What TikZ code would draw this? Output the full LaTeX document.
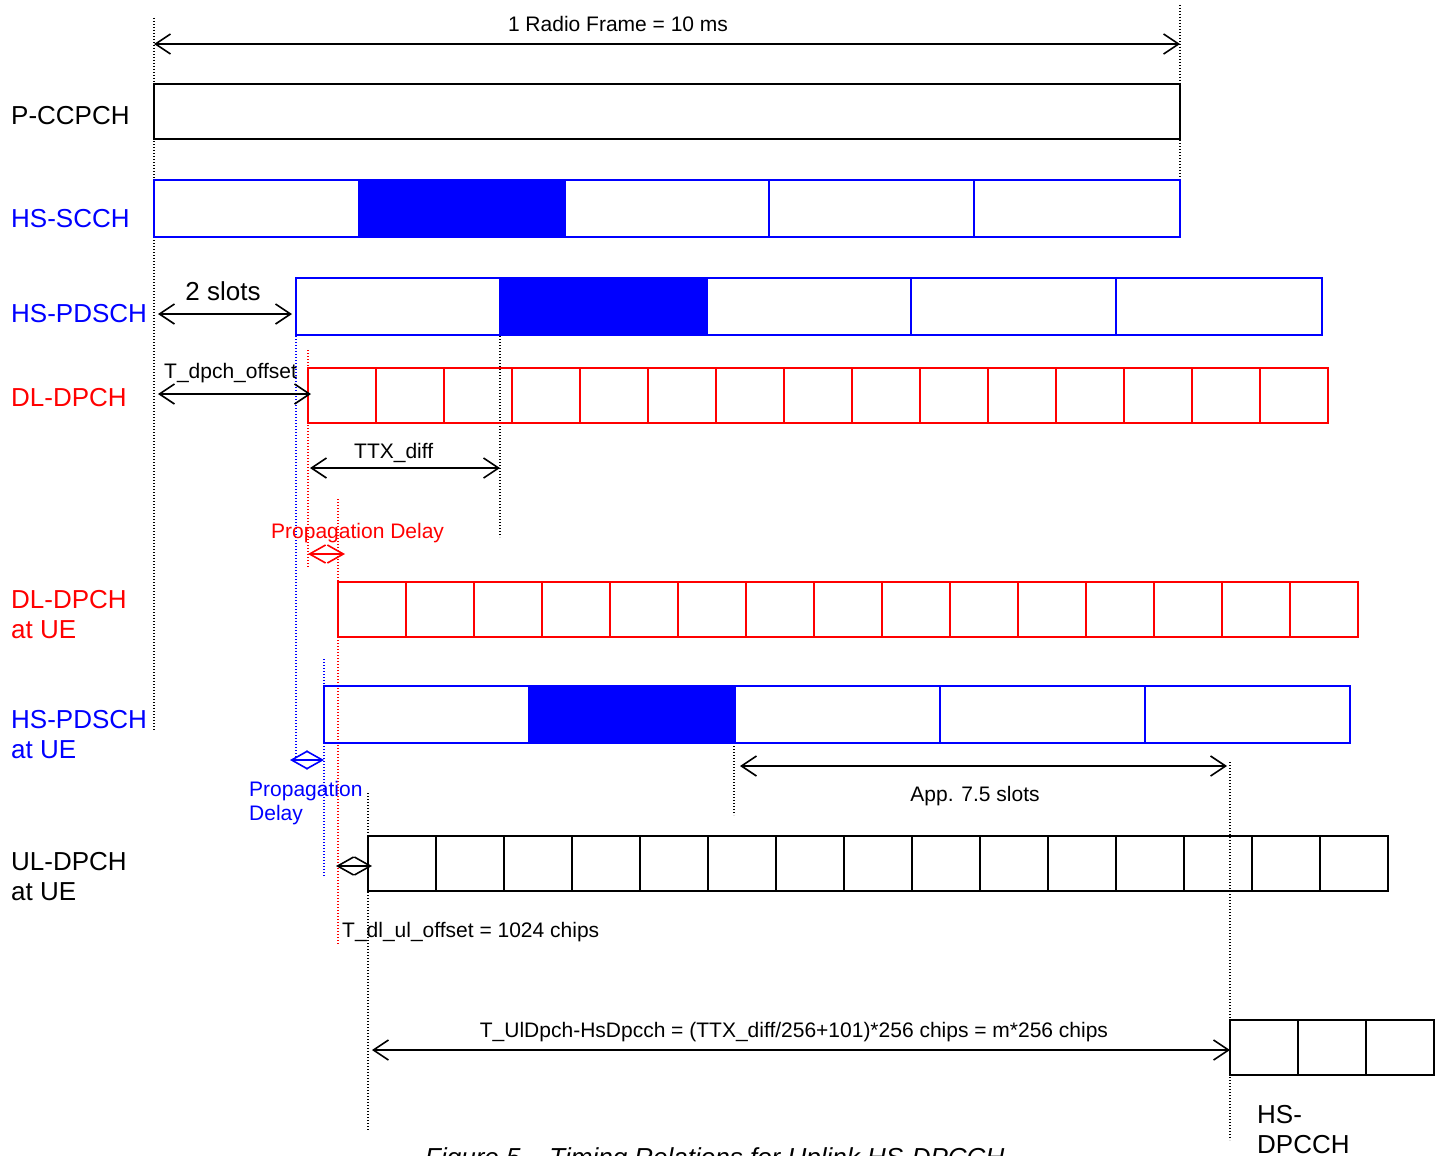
\documentclass[tikz,border=0pt]{standalone}
\usepackage{fontspec}
\setmainfont{Liberation Sans}
\usetikzlibrary{arrows.meta}
\definecolor{pblue}{RGB}{0,0,255}
\definecolor{pred}{RGB}{255,0,0}
\begin{document}
\begin{tikzpicture}[x=1pt,y=-1pt,
  box/.style={line width=2pt},
  dots/.style={line width=1.4pt, dash pattern=on 1.4pt off 1.6pt},
  dim/.style={line width=1.6pt, {Straight Barb[length=15pt,width=20pt]}-{Straight Barb[length=15pt,width=20pt]}},
  sdim/.style={line width=1.6pt, {Straight Barb[length=16pt,width=18pt]}-{Straight Barb[length=16pt,width=18pt]}},
  big/.style={font=\fontsize{26}{30}\selectfont, inner sep=0pt, anchor=base west},
  small/.style={font=\fontsize{21}{25}\selectfont, inner sep=0pt, anchor=base west},
]
\useasboundingbox (0,0) rectangle (1443,1156);

% dotted reference lines
\draw[dots] (154,18) -- (154,730);
\draw[dots] (1180,5) -- (1180,222);
\draw[dots] (500,318) -- (500,537);
\draw[dots,pblue] (296,336) -- (296,760);
\draw[dots,pred] (308,350) -- (308,568);
\draw[dots,pred] (338,499) -- (338,945);
\draw[dots,pblue] (324,659) -- (324,877);
\draw[dots] (368,793) -- (368,1130);
\draw[dots] (734,743) -- (734,815);
\draw[dots] (1230,762) -- (1230,1140);

% P-CCPCH
\draw[box] (154,84) rectangle (1180,139);
% HS-SCCH
\fill[pblue] (359,180) rectangle (565,237);
\draw[box,pblue] (154,180) rectangle (1180,237);
\foreach \x in {359,565,769,974} \draw[box,pblue] (\x,180) -- (\x,237);
% HS-PDSCH
\fill[pblue] (500,278) rectangle (707,335);
\draw[box,pblue] (296,278) rectangle (1322,335);
\foreach \x in {500,707,911,1116} \draw[box,pblue] (\x,278) -- (\x,335);
% DL-DPCH
\foreach \i in {0,...,14} \draw[box,pred] (308+68*\i,368) rectangle (376+68*\i,423);
% DL-DPCH at UE
\foreach \i in {0,...,14} \draw[box,pred] (338+68*\i,582) rectangle (406+68*\i,637);
% HS-PDSCH at UE
\fill[pblue] (529,686) rectangle (735,743);
\draw[box,pblue] (324,686) rectangle (1350,743);
\foreach \x in {529,735,940,1145} \draw[box,pblue] (\x,686) -- (\x,743);
% UL-DPCH at UE
\foreach \i in {0,...,14} \draw[box] (368+68*\i,836) rectangle (436+68*\i,891);
% HS-DPCCH
\foreach \i in {0,...,2} \draw[box] (1230+68*\i,1020) rectangle (1298+68*\i,1075);

% channel labels
\node[big] (lpccpch) at (11,124) {P-CCPCH};
\node[big,text=pblue] (lscch) at (11,227) {HS-SCCH};
\node[big,text=pblue] (lpdsch) at (11,322) {HS-PDSCH};
\node[big,text=pred] (ldpch) at (11,406) {DL-DPCH};
\node[big,text=pred] (ldpchue) at (11,608) {DL-DPCH};
\node[big,text=pred] (ldpchue2) at (11,638) {at UE};
\node[big,text=pblue] (lpdschue) at (11,728) {HS-PDSCH};
\node[big,text=pblue] (lpdschue2) at (11,758) {at UE};
\node[big] (luldpch) at (11,870) {UL-DPCH};
\node[big] (luldpch2) at (11,900) {at UE};
\node[big] (lhs) at (1257,1123) {HS-};
\node[big] (lhs2) at (1257,1153) {DPCCH};

% dimension coordinates
\coordinate (rfA) at (154,44);   \coordinate (rfB) at (1180,44);
\coordinate (slA) at (158,314);  \coordinate (slB) at (292,314);
\coordinate (toA) at (158,394);  \coordinate (toB) at (311,394);
\coordinate (txA) at (310,468);  \coordinate (txB) at (500,468);
\coordinate (prA) at (308,554);  \coordinate (prB) at (345,554);
\coordinate (pbA) at (290,760);  \coordinate (pbB) at (324,760);
\coordinate (pkA) at (336,866);  \coordinate (pkB) at (372,866);
\coordinate (apA) at (740,766);  \coordinate (apB) at (1227,766);
\coordinate (tuA) at (372,1050); \coordinate (tuB) at (1230,1050);

\draw[dim] (rfA) -- (rfB);
\draw[dim] (slA) -- (slB);
\draw[dim] (toA) -- (toB);
\draw[dim] (txA) -- (txB);
\draw[sdim,pred] (prA) -- (prB);
\draw[sdim,pblue] (pbA) -- (pbB);
\draw[sdim] (pkA) -- (pkB);
\draw[dim] (apA) -- (apB);
\draw[dim] (tuA) -- (tuB);

% dimension labels
\node[small,anchor=base] (trf) at (618,32) {1 Radio Frame = 10 ms};
\node[big,anchor=base] (tsl) at (223,300) {2 slots};
\node[small] (tto) at (164,378) {T\_dpch\_offset};
\node[small] (ttx) at (354,458) {TTX\_diff};
\node[small,text=pred] (tpr) at (271,538) {Propagation Delay};
\node[small,text=pblue] (tpb) at (249,796) {Propagation};
\node[small,text=pblue] (tpb2) at (249,820) {Delay};
\node[small] (tdl) at (342,937) {T\_dl\_ul\_offset = 1024 chips};
\node[small,anchor=base] (tap) at (975,801) {App. 7.5 slots};
\node[small,anchor=base] (ttu) at (794,1037) {T\_UlDpch-HsDpcch = (TTX\_diff/256+101)*256 chips = m*256 chips};

% caption (cut off at the bottom)
\node[big,font=\fontsize{26}{30}\selectfont\itshape] (cap) at (425,1166) {Figure 5 – Timing Relations for Uplink HS-DPCCH};
\end{tikzpicture}
\end{document}
